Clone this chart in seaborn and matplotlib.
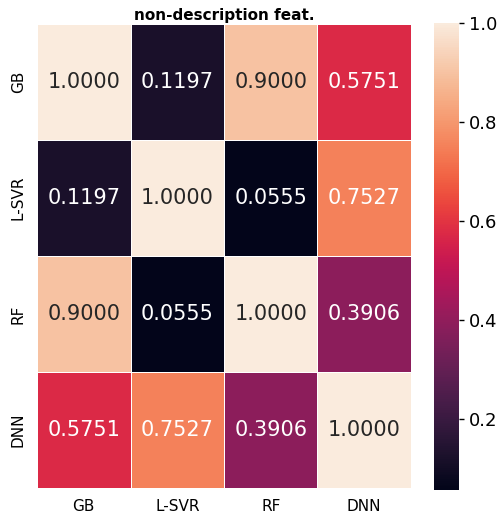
import numpy as np
import pandas as pd
import matplotlib
matplotlib.use("Agg")
import matplotlib.pyplot as plt
import seaborn as sns

models = ["GB", "L-SVR", "RF", "DNN"]
row_gb = [1.0000, 0.1197, 0.9000, 0.5751]
row_lsvr = [0.1197, 1.0000, 0.0555, 0.7527]
row_rf = [0.9000, 0.0555, 1.0000, 0.3906]
row_dnn = [0.5751, 0.7527, 0.3906, 1.0000]

corr = pd.DataFrame([row_gb, row_lsvr, row_rf, row_dnn], index=models, columns=models)

fig = plt.figure(figsize=(4.98, 5.15), dpi=100)
ax = fig.add_axes([0.0743, 0.0524, 0.751, 0.901])
cax = fig.add_axes([0.8715, 0.0485, 0.0502, 0.907])

sns.heatmap(corr, ax=ax, cbar_ax=cax, annot=True, fmt=".4f",
            annot_kws={"size": 15}, linewidths=0.6, linecolor="white")

ax.set_title("non-description feat.", fontsize=11, fontweight="bold", pad=3)
ax.tick_params(axis="both", labelsize=11, length=0)
ax.tick_params(axis="x", pad=8)
ax.tick_params(axis="y", pad=8)
cax.set_yticks([0.2, 0.4, 0.6, 0.8, 1.0])
cax.set_yticklabels(["0.2", "0.4", "0.6", "0.8", "1.0"])
cax.tick_params(labelsize=13, length=3.5, width=1)

fig.savefig("out.png", dpi=100)
